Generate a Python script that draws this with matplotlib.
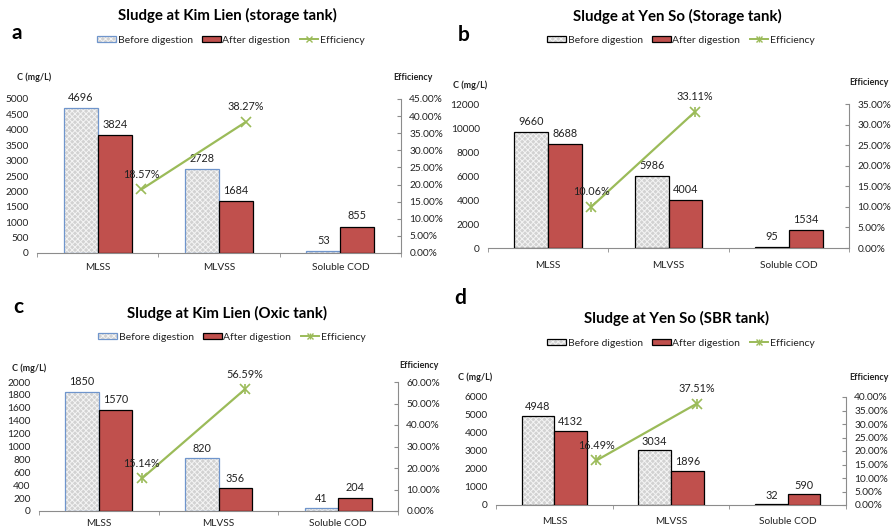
import numpy as np
import matplotlib
matplotlib.use("Agg")
import matplotlib.pyplot as plt
from matplotlib.patches import Patch
from matplotlib.lines import Line2D
from matplotlib.legend_handler import HandlerTuple
from matplotlib.ticker import FuncFormatter, MultipleLocator

plt.rcParams["font.family"] = ["Lato", "DejaVu Sans"]
plt.rcParams["hatch.linewidth"] = 0.7

# ---- data ----
categories = ["MLSS", "MLVSS", "Soluble COD"]
series_labels = ["Before digestion", "After digestion", "Efficiency"]

titles = [
    "Sludge at Kim Lien (storage tank)",
    "Sludge at Yen So (Storage tank)",
    "Sludge at Kim Lien (Oxic tank)",
    "Sludge at Yen So (SBR tank)",
]
panel_letters = ["a", "b", "c", "d"]

before_a = [4696, 2728, 53]
after_a = [3824, 1684, 855]
eff_a = [18.57, 38.27]

before_b = [9660, 5986, 95]
after_b = [8688, 4004, 1534]
eff_b = [10.06, 33.11]

before_c = [1850, 820, 41]
after_c = [1570, 356, 204]
eff_c = [15.14, 56.59]

before_d = [4948, 3034, 32]
after_d = [4132, 1896, 590]
eff_d = [16.49, 37.51]

left_max = [5000, 12000, 2000, 6000]
left_step = [500, 2000, 200, 1000]
right_max = [45, 35, 60, 40]
right_step = [5, 5, 10, 5]

# ---- styling ----
W, H = 892, 529
RED = "#C0504D"
GREEN = "#9BBB59"
BLUE = "#6F95CC"
HATCH_FACE = "#d2d2d2"
HATCH_LINE = "#f4f4f4"
AXIS_GRAY = "#8c8c8c"
TEXT = "#222222"

fig = plt.figure(figsize=(W / 100, H / 100), dpi=100)

def px_axes(l, t, r, b):
    return fig.add_axes([l / W, 1 - b / H, (r - l) / W, (b - t) / H])

def fx(x):
    return x / W

def fy(y):
    return 1 - y / H

# pixel layout for each panel
layout = [
    dict(box=(37, 99, 401, 253), title=(227, 15), letter=(12, 33), legend=(231, 40),
         ylab=(17, 77), y2lab=(433, 78), cat_y=268, edge=BLUE, star=False),
    dict(box=(488, 104, 849, 248), title=(677, 16), letter=(458, 35), legend=(681, 40),
         ylab=(453, 85), y2lab=(889, 83), cat_y=266, edge="black", star=True),
    dict(box=(39, 382, 398, 511), title=(227, 313), letter=(13, 307), legend=(232, 337),
         ylab=(12, 368), y2lab=(439, 365), cat_y=524, edge=BLUE, star=True),
    dict(box=(496, 397, 846, 505), title=(677, 318), letter=(454, 298), legend=(681, 343),
         ylab=(458, 377), y2lab=(889, 378), cat_y=521, edge="black", star=True),
]

befores = [before_a, before_b, before_c, before_d]
afters = [after_a, after_b, after_c, after_d]
effs = [eff_a, eff_b, eff_c, eff_d]

bar_w = 0.28
eff_offset = np.array([0.36, 0.22])   # efficiency points sit between the bar groups
x = np.arange(len(categories))
HATCH = "xxxxxx"

for i, L in enumerate(layout):
    ax = px_axes(*L["box"])
    before = np.array(befores[i])
    after = np.array(afters[i])
    eff = np.array(effs[i])
    ymax = left_max[i]

    # before digestion: hatched fill + outline
    ax.bar(x - bar_w / 2, before, bar_w, facecolor=HATCH_FACE, edgecolor=HATCH_LINE,
           hatch=HATCH, linewidth=0, zorder=2)
    ax.bar(x - bar_w / 2, before, bar_w, fill=False, edgecolor=L["edge"], linewidth=0.9, zorder=3)
    # after digestion
    ax.bar(x + bar_w / 2, after, bar_w, color=RED, edgecolor="black", linewidth=0.9, zorder=3)

    off = ymax * 0.035
    for xi, v in zip(x - bar_w / 2, before):
        ax.text(xi, v + off, f"{v}", ha="center", va="bottom", fontsize=7.8, color=TEXT, zorder=5)
    for xi, v in zip(x + bar_w / 2, after):
        ax.text(xi, v + off, f"{v}", ha="center", va="bottom", fontsize=7.8, color=TEXT, zorder=5)

    ax.set_xlim(-0.5, 2.5)
    ax.set_ylim(0, ymax)
    ax.yaxis.set_major_locator(MultipleLocator(left_step[i]))
    ax.set_xticks([])
    ax.set_xticks([-0.5, 0.5, 1.5, 2.5], minor=True)
    ax.tick_params(axis="x", which="minor", length=3, color=AXIS_GRAY, direction="out")
    ax.tick_params(axis="y", length=0, labelsize=7.3, labelcolor=TEXT, pad=6)
    for s in ("top", "right", "left"):
        ax.spines[s].set_visible(False)
    ax.spines["bottom"].set_color(AXIS_GRAY)
    ax.spines["bottom"].set_linewidth(0.8)
    ax.set_facecolor("none")

    for xi, c in zip(x, categories):
        fig.text(fx(L["box"][0] + (L["box"][2] - L["box"][0]) * (xi + 0.5) / 3), fy(L["cat_y"]),
                 c, ha="center", va="center", fontsize=7.3, color=TEXT)

    # efficiency on secondary axis
    ax2 = ax.twinx()
    ax2.set_ylim(0, right_max[i])
    ax2.yaxis.set_major_locator(MultipleLocator(right_step[i]))
    ax2.yaxis.set_major_formatter(FuncFormatter(lambda v, p: f"{v:.2f}%"))
    ax2.tick_params(axis="y", direction="in", length=3, color=AXIS_GRAY, labelsize=7.3,
                    labelcolor=TEXT, pad=6)
    for s in ("top", "left", "bottom"):
        ax2.spines[s].set_visible(False)
    ax2.spines["right"].set_color(AXIS_GRAY)
    ax2.spines["right"].set_linewidth(0.8)

    ex = x[:2] + eff_offset
    ax2.plot(ex, eff, color=GREEN, linewidth=1.6, marker="x", markersize=7,
             markeredgewidth=1.2, zorder=4)
    if L["star"]:
        ax2.plot(ex, eff, linestyle="none", color=GREEN, marker="|", markersize=7,
                 markeredgewidth=1.2, zorder=4)
    for xi, v in zip(ex, eff):
        ax2.annotate(f"{v:.2f}%", (xi, v), xytext=(0, 7), textcoords="offset points",
                     ha="center", va="bottom", fontsize=7.8, color=TEXT, zorder=5)

    # titles and labels
    fig.text(fx(L["title"][0]), fy(L["title"][1]), titles[i], ha="center", va="center",
             fontsize=10.8, fontweight="bold", color="black")
    fig.text(fx(L["letter"][0]), fy(L["letter"][1]), panel_letters[i], ha="left", va="center",
             fontsize=15, fontweight="bold", color="black")
    fig.text(fx(L["ylab"][0]), fy(L["ylab"][1]), "C (mg/L)", ha="left", va="center",
             fontsize=6.5, fontweight="bold", color=TEXT)
    fig.text(fx(L["y2lab"][0]), fy(L["y2lab"][1]), "Efficiency", ha="right", va="center",
             fontsize=6.5, fontweight="bold", color=TEXT)

    # legend
    h_before = (Patch(facecolor=HATCH_FACE, edgecolor=HATCH_LINE, hatch=HATCH, linewidth=0),
                Patch(fill=False, edgecolor=L["edge"], linewidth=0.9))
    h_after = Patch(facecolor=RED, edgecolor="black", linewidth=0.9)
    if L["star"]:
        h_eff = (Line2D([], [], color=GREEN, lw=1.4, marker="x", ms=5, mew=1.0),
                 Line2D([], [], color=GREEN, lw=0, marker="|", ms=5, mew=1.0))
    else:
        h_eff = Line2D([], [], color=GREEN, lw=1.4, marker="x", ms=5, mew=1.0)
    fig.legend([h_before, h_after, h_eff], series_labels, loc="center",
               bbox_to_anchor=(fx(L["legend"][0]), fy(L["legend"][1])), ncol=3,
               frameon=False, fontsize=7.5, handlelength=1.8, handleheight=0.6,
               handletextpad=0.15, columnspacing=0.9, borderaxespad=0,
               handler_map={tuple: HandlerTuple(ndivide=1)}, labelcolor=TEXT)

fig.savefig("out.png", dpi=100)
